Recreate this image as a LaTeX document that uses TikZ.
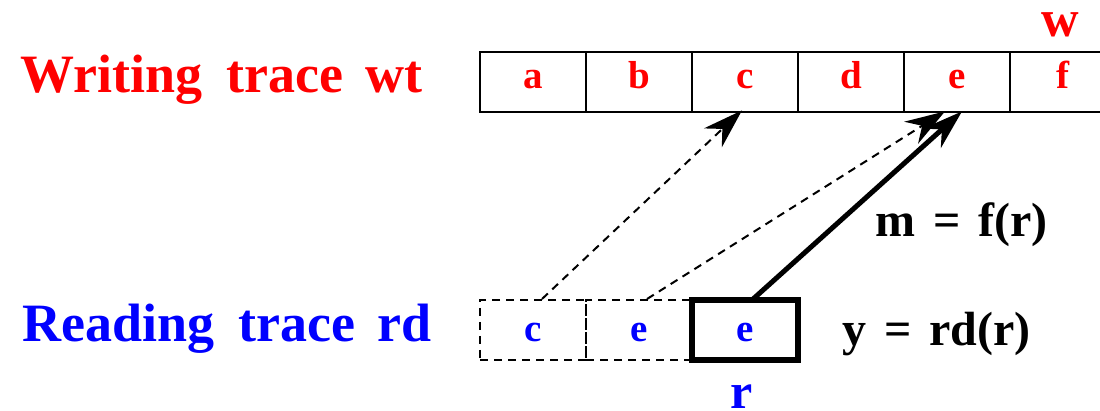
\documentclass[tikz,border=0pt]{standalone}
\usepackage{fontspec}
\setmainfont{Liberation Serif}
\usetikzlibrary{arrows.meta}
\begin{document}
\begin{tikzpicture}[x=1pt,y=-1pt,
  topcell/.style={draw,line width=2.8pt,minimum width=106pt,minimum height=60pt,inner sep=0pt,
    text=red,font=\fontsize{39}{40}\bfseries\selectfont,text height=20pt,text depth=6pt},
  botcell/.style={minimum width=106pt,minimum height=60pt,inner sep=0pt,
    text=blue,font=\fontsize{39}{40}\bfseries\selectfont,text height=28pt,text depth=4pt},
  dashcell/.style={botcell,draw,dashed,dash pattern=on 8pt off 6pt,line width=2pt},
  thickcell/.style={botcell,draw,line width=6pt},
  title/.style={anchor=base west,inner sep=0pt,font=\fontsize{54}{60}\bfseries\selectfont},
  formula/.style={anchor=base west,inner sep=0pt,font=\fontsize{48}{52}\bfseries\selectfont},
  tip/.style={-{Stealth[length=40pt,width=26pt,inset=13pt]}},
  dasharrow/.style={tip,dashed,dash pattern=on 8pt off 6pt,line width=2pt},
  solidarrow/.style={tip,line width=5pt}]
\clip (0,0) rectangle (1100,411);
\fill[white] (0,0) rectangle (1100,411);
% top row
\node[topcell] (t1) at (533,82) {a};
\node[topcell] (t2) at (639,82) {b};
\node[topcell] (t3) at (745,82) {c};
\node[topcell] (t4) at (851,82) {d};
\node[topcell] (t5) at (957,82) {e};
\node[topcell] (t6) at (1063,82) {f};
\node[anchor=base,inner sep=0pt,text=red,font=\fontsize{52}{56}\bfseries\selectfont] (w) at (1060,37) {w};
% bottom row
\node[dashcell] (b1) at (533,330) {c};
\node[dashcell] (b2) at (639,330) {e};
\node[thickcell] (b3) at (745,330) {e};
\node[anchor=base,inner sep=0pt,text=blue,font=\fontsize{50}{54}\bfseries\selectfont] (r) at (742,408) {r};
% titles
\node[title,text=red] (wt) at (20,93) {Writing\hspace{24pt}trace\hspace{22pt}wt};
\node[title,text=blue] (rd) at (22,342) {Reading\hspace{24pt}trace\hspace{22pt}rd};
% formulas
\node[formula] (m) at (875,237) {m\hspace{18pt}=\hspace{18pt}f(r)};
\node[formula] (y) at (842,345) {y\hspace{18pt}=\hspace{18pt}rd(r)};
% arrows
\draw[dasharrow] ([xshift=9pt]b1.north) -- ([xshift=-3pt,yshift=3pt]t3.south);
\draw[dasharrow] ([xshift=8pt]b2.north) -- ([xshift=-12pt,yshift=2pt]t5.south);
\draw[solidarrow] ([xshift=7pt,yshift=-3pt]b3.north) -- ([xshift=5pt,yshift=2pt]t5.south);
\end{tikzpicture}
\end{document}
